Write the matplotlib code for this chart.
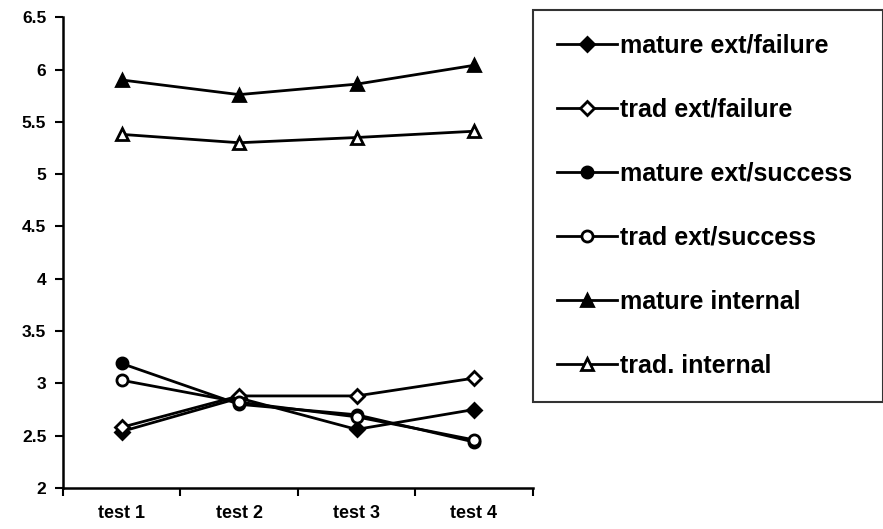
import matplotlib.pyplot as plt

plt.rcParams['font.family'] = ['Liberation Sans', 'DejaVu Sans']
plt.rcParams['font.weight'] = 'bold'

tests = ['test 1', 'test 2', 'test 3', 'test 4']
mature_ext_failure = [2.54, 2.86, 2.56, 2.75]
trad_ext_failure = [2.58, 2.88, 2.88, 3.05]
mature_ext_success = [3.19, 2.80, 2.70, 2.44]
trad_ext_success = [3.03, 2.82, 2.68, 2.46]
mature_internal = [5.90, 5.76, 5.86, 6.04]
trad_internal = [5.38, 5.30, 5.35, 5.41]

series = [
    ('mature ext/failure', mature_ext_failure, 'D', 'black', 7),
    ('trad ext/failure', trad_ext_failure, 'D', 'white', 7),
    ('mature ext/success', mature_ext_success, 'o', 'black', 8),
    ('trad ext/success', trad_ext_success, 'o', 'white', 8),
    ('mature internal', mature_internal, '^', 'black', 9),
    ('trad. internal', trad_internal, '^', 'white', 9),
]

fig = plt.figure(figsize=(8.83, 5.29), dpi=100)
ax = fig.add_axes([0.0713, 0.0775, 0.532, 0.890])

x = range(len(tests))
for name, vals, m, fc, ms in series:
    ax.plot(x, vals, color='black', lw=2, marker=m, ms=ms,
            markerfacecolor=fc, markeredgecolor='black', markeredgewidth=2,
            label=name)

ax.set_xlim(-0.5, 3.5)
ax.set_ylim(2, 6.5)
ax.set_yticks([2, 2.5, 3, 3.5, 4, 4.5, 5, 5.5, 6, 6.5])
ax.set_yticklabels(['2', '2.5', '3', '3.5', '4', '4.5', '5', '5.5', '6', '6.5'])
ax.set_xticks([-0.5, 0.5, 1.5, 2.5, 3.5])
ax.set_xticklabels([])
ax.set_xticks(list(x), minor=True)
ax.set_xticklabels(tests, minor=True)
ax.tick_params(axis='x', which='minor', length=0, pad=12, labelsize=13)
ax.tick_params(axis='x', which='major', length=6, width=1.5, direction='out')
ax.tick_params(axis='y', length=6, width=1.5, direction='out', labelsize=12.5,
               pad=6)
for s in ['top', 'right']:
    ax.spines[s].set_visible(False)
for s in ['left', 'bottom']:
    ax.spines[s].set_linewidth(1.8)

leg = fig.legend(loc='upper left', bbox_to_anchor=(0.604, 0.25, 0.396, 0.731),
                 mode='expand', frameon=True, fancybox=False, edgecolor='black',
                 fontsize=18, labelspacing=1.6, handlelength=2.4,
                 handletextpad=0.12, borderpad=0.95, borderaxespad=0)
leg.get_frame().set_linewidth(1.5)

fig.savefig('out.png', dpi=100)
